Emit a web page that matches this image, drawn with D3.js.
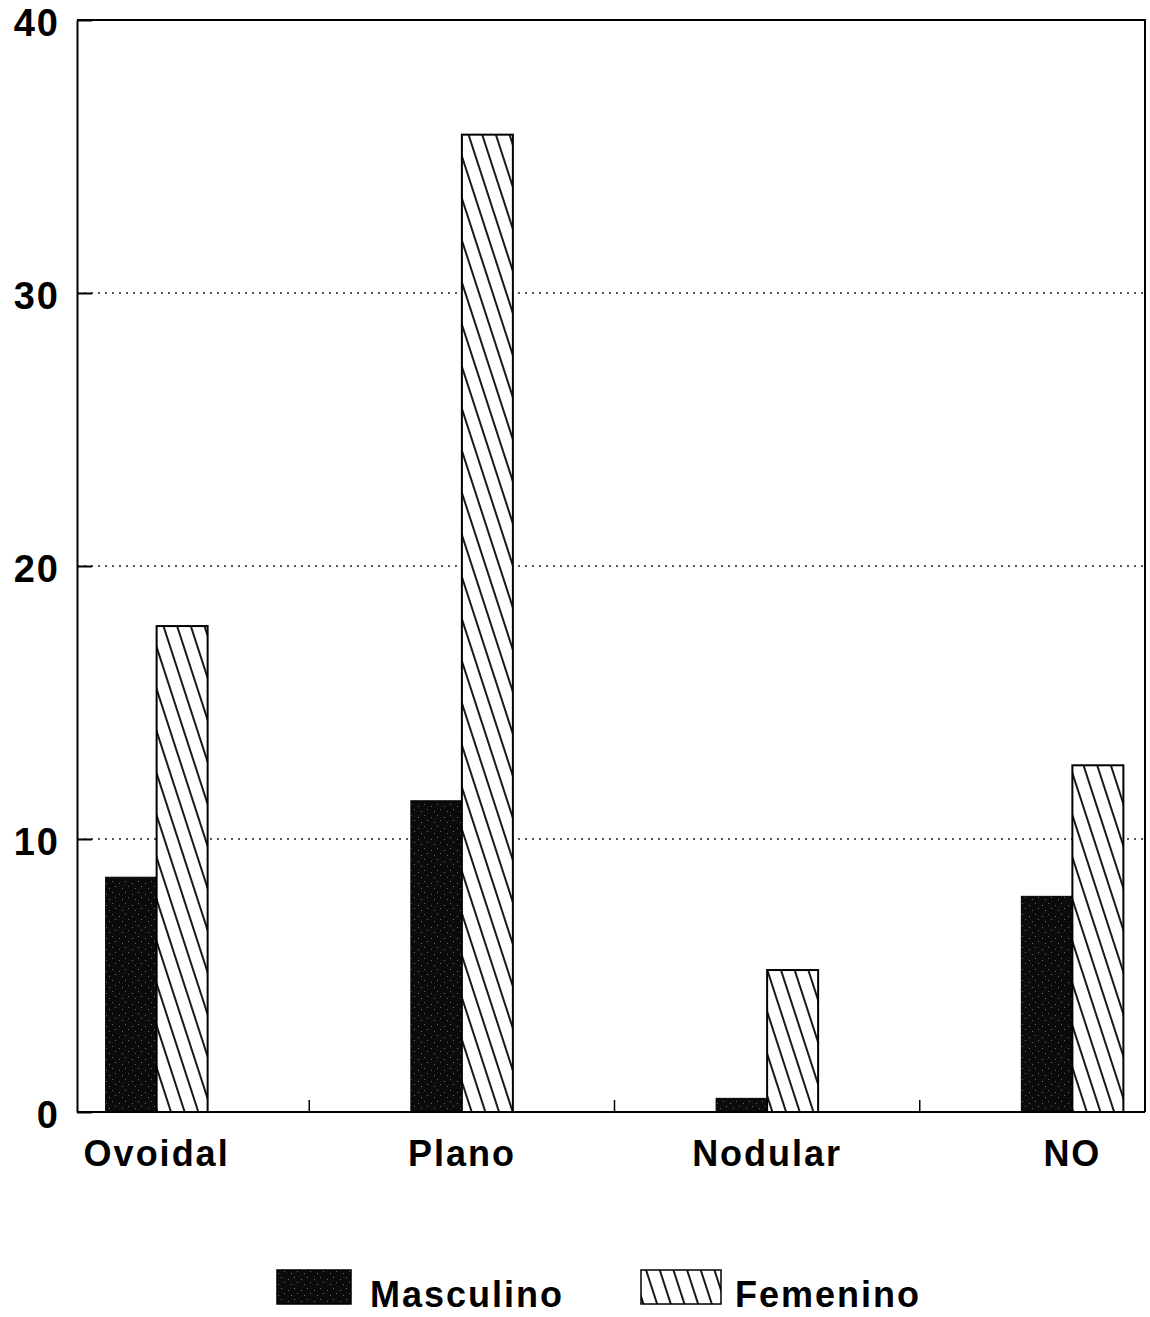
<!DOCTYPE html>
<html>
<head>
<meta charset="utf-8">
<script src="https://cdn.jsdelivr.net/npm/d3@7"></script>
<style>
  html, body { margin: 0; padding: 0; background: #fff; }
  svg { display: block; }
  text { font-family: "Liberation Sans", Arial, sans-serif; font-weight: bold; fill: #000; }
</style>
</head>
<body>
<script>
// ---- data ----
const categories = ["Ovoidal", "Plano", "Nodular", "NO"];
const seriesNames = ["Masculino", "Femenino"];
const masculino = [8.6, 11.4, 0.5, 7.9];
const femenino = [17.8, 35.8, 5.2, 12.7];
const yTicks = [0, 10, 20, 30, 40];

(function () {
const W = 1150, H = 1317;
const svg = d3.select("body").append("svg").attr("width", W).attr("height", H);

// ---- patterns ----
const defs = svg.append("defs");
const dark = defs.append("pattern").attr("id", "dark").attr("patternUnits", "userSpaceOnUse")
  .attr("width", 13).attr("height", 11);
dark.append("rect").attr("width", 13).attr("height", 11).attr("fill", "#0b0b0b");
[[2,3],[8,1],[5,8],[11,6]].forEach(([a,b]) =>
  dark.append("rect").attr("x", a).attr("y", b).attr("width", 1).attr("height", 1).attr("fill", "#6a6a6a"));
const hatch = defs.append("pattern").attr("id", "hatch").attr("patternUnits", "userSpaceOnUse")
  .attr("width", 13).attr("height", 40).attr("patternTransform", "rotate(-18)");
hatch.append("rect").attr("width", 13).attr("height", 40).attr("fill", "#fff");
hatch.append("line").attr("x1", 1).attr("x2", 1).attr("y1", 0).attr("y2", 40)
  .attr("stroke", "#000").attr("stroke-width", 1.8);

const fills = ["url(#dark)", "url(#hatch)"];
const values = [masculino, femenino];

// ---- scales ----
const pLeft = 77, pRight = 1145, pTop = 20, pBottom = 1112;
const y = d3.scaleLinear().domain([0, 40]).range([pBottom, pTop]);
const x = d3.scaleBand().domain(categories).range([4, 1225]).padding(0);
const xInner = d3.scaleBand().domain(seriesNames).range([-51, 51]).padding(0);
const center = c => x(c) + x.bandwidth() / 2;

// ---- grid ----
svg.append("g").selectAll("line").data(yTicks.filter(t => t > 0 && t < 40)).join("line")
  .attr("x1", pLeft).attr("x2", pRight)
  .attr("y1", d => y(d)).attr("y2", d => y(d))
  .attr("stroke", "#222").attr("stroke-width", 1.3).attr("stroke-dasharray", "2,5");

// ---- bars ----
const bars = [];
categories.forEach((c, i) => seriesNames.forEach((s, j) => bars.push({c, s, j, v: values[j][i]})));
svg.append("g").selectAll("rect").data(bars).join("rect")
  .attr("x", d => center(d.c) + xInner(d.s))
  .attr("width", xInner.bandwidth())
  .attr("y", d => y(d.v))
  .attr("height", d => pBottom - y(d.v))
  .attr("fill", d => fills[d.j])
  .attr("stroke", "#000").attr("stroke-width", d => d.j === 1 ? 2 : 1);

// ---- frame ----
svg.append("path")
  .attr("d", `M${pLeft},${pTop}H${pRight}V${pBottom}`)
  .attr("fill", "none").attr("stroke", "#000").attr("stroke-width", 2);

// ---- y axis ----
const yAxis = svg.append("g").attr("transform", `translate(${pLeft},0)`)
  .call(d3.axisLeft(y).tickValues(yTicks).tickSizeInner(-15).tickSizeOuter(0).tickPadding(17));
yAxis.select(".domain").attr("stroke", "#000").attr("stroke-width", 2);
yAxis.selectAll(".tick line").attr("stroke", "#000").attr("stroke-width", 2);
yAxis.selectAll(".tick text").attr("font-size", 38).attr("letter-spacing", 2)
  .attr("font-family", "'Liberation Sans', Arial, sans-serif").attr("font-weight", "bold")
  .attr("dy", "0.42em");

// ---- x axis ----
const xAxis = svg.append("g").attr("transform", `translate(0,${pBottom})`)
  .call(d3.axisBottom(x).tickSize(0).tickPadding(28));
xAxis.select(".domain").remove();
xAxis.selectAll(".tick text").attr("font-size", 36).attr("letter-spacing", 2)
  .attr("font-family", "'Liberation Sans', Arial, sans-serif").attr("font-weight", "bold");
svg.append("line").attr("x1", pLeft).attr("x2", pRight).attr("y1", pBottom).attr("y2", pBottom)
  .attr("stroke", "#000").attr("stroke-width", 2);
// group separator ticks
svg.append("g").selectAll("line").data(categories.slice(1)).join("line")
  .attr("x1", d => x(d)).attr("x2", d => x(d))
  .attr("y1", pBottom).attr("y2", pBottom - 12)
  .attr("stroke", "#000").attr("stroke-width", 1.5);

// ---- legend ----
const legendItems = [
  {name: seriesNames[0], fill: fills[0], bx: 277, bw: 74, tx: 370},
  {name: seriesNames[1], fill: fills[1], bx: 641, bw: 80, tx: 735}
];
const lg = svg.append("g");
legendItems.forEach(it => {
  lg.append("rect").attr("x", it.bx).attr("y", 1270).attr("width", it.bw).attr("height", 34)
    .attr("fill", it.fill).attr("stroke", "#000").attr("stroke-width", 1.5);
  lg.append("text").attr("x", it.tx).attr("y", 1307).attr("font-size", 36).attr("letter-spacing", 2)
    .text(it.name);
});
})();
</script>
</body>
</html>
